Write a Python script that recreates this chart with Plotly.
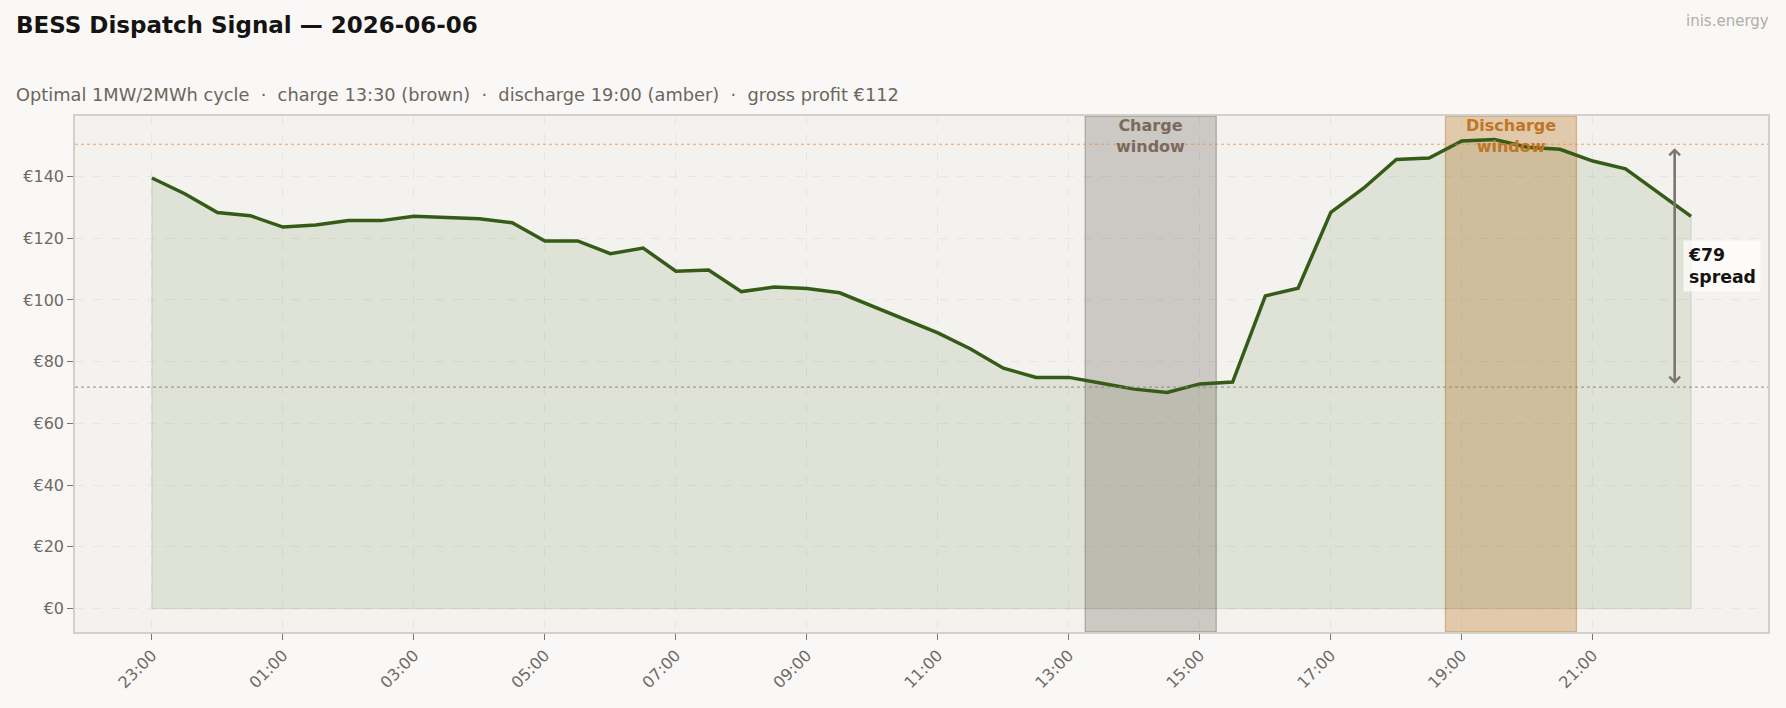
import pandas as pd
import plotly.graph_objects as go

# ---------------- data ----------------
start_time = "2026-06-05 23:00"
prices = [139.5, 134.4, 128.3, 127.3, 123.6, 124.3, 125.7, 125.7,
          127.1, 126.6, 126.3, 125.0, 119.1, 119.1, 115.0, 116.8,
          109.3, 109.7, 102.7, 104.2, 103.7, 102.3, 98.0, 93.4,
          89.3, 84.1, 77.9, 74.9, 74.9, 73.0, 71.1, 70.0,
          72.8, 73.4, 101.3, 103.8, 128.4, 136.2, 145.5, 146.0,
          151.5, 152.0, 149.5, 148.8, 145.0, 142.5, 134.9, 127.1]
charge_window = ["2026-06-06 13:15", "2026-06-06 15:15"]
discharge_window = ["2026-06-06 18:45", "2026-06-06 20:45"]
spread_arrow_time = "2026-06-06 22:15"
title_text = "BESS Dispatch Signal — 2026-06-06"
subtitle_text = ("Optimal 1MW/2MWh cycle  ·  charge 13:30 (brown)  ·  "
                 "discharge 19:00 (amber)  ·  gross profit €112")
watermark = "inis.energy"
y_tick_values = [0, 20, 40, 60, 80, 100, 120, 140]
y_tick_labels = ["€0", "€20", "€40", "€60", "€80", "€100", "€120", "€140"]

times = pd.date_range(start_time, periods=len(prices), freq="30min")
s = pd.Series(prices, index=times)
cw = [pd.Timestamp(t) for t in charge_window]
dw = [pd.Timestamp(t) for t in discharge_window]
charge_avg = s[(s.index >= cw[0]) & (s.index <= cw[1])].mean()
discharge_avg = s[(s.index >= dw[0]) & (s.index <= dw[1])].mean()
spread = discharge_avg - charge_avg

span = times[-1] - times[0]
x_range = [times[0] - span * 0.05, times[-1] + span * 0.05]
ymax = max(prices)
y_range = [-0.05 * ymax, 1.05 * ymax]
x_tick_values = list(times[::4])

FONT = "DejaVu Sans"
LINE_GREEN = "#355c17"
TICK_COLOR = "#6f6963"

fig = go.Figure()


def window_trace(win, fill, edge):
    y0, y1 = y_range
    return go.Scatter(x=[win[0], win[1], win[1], win[0], win[0]],
                      y=[y0, y0, y1, y1, y0], mode="lines", fill="toself",
                      fillcolor=fill, line=dict(color=edge, width=1.3),
                      hoverinfo="skip", showlegend=False)


fig.add_trace(window_trace(cw, "rgba(116,102,95,0.30)", "rgba(120,108,98,0.45)"))
fig.add_trace(window_trace(dw, "rgba(186,105,18,0.30)", "rgba(190,120,50,0.45)"))

fx = [times[0]] + list(times) + [times[-1], times[0]]
fy = [0] + prices + [0, 0]
fig.add_trace(go.Scatter(x=fx, y=fy, mode="lines", fill="toself",
                         fillcolor="rgba(58,95,26,0.105)",
                         line=dict(color="rgba(58,95,26,0.13)", width=1.3),
                         hoverinfo="skip", showlegend=False))
fig.add_trace(go.Scatter(x=times, y=prices, mode="lines",
                         line=dict(color=LINE_GREEN, width=3.5),
                         hoverinfo="skip", showlegend=False))

shapes = []
shapes.append(dict(type="line", xref="x domain", yref="y", x0=0, x1=1,
                   y0=discharge_avg, y1=discharge_avg,
                   line=dict(color="rgba(222,140,70,0.75)", width=1.2, dash="dot"),
                   layer="above"))
shapes.append(dict(type="line", xref="x domain", yref="y", x0=0, x1=1,
                   y0=charge_avg, y1=charge_avg,
                   line=dict(color="rgba(140,130,120,0.75)", width=1.2, dash="dot"),
                   layer="above"))

annotations = []
annotations.append(dict(x=cw[0] + (cw[1] - cw[0]) / 2, y=1.0, xref="x", yref="paper",
                        text="<b>Charge<br>window</b>", showarrow=False,
                        xanchor="center", yanchor="top", yshift=2,
                        font=dict(family=FONT, size=16, color="#7a6a5c")))
annotations.append(dict(x=dw[0] + (dw[1] - dw[0]) / 2, y=1.0, xref="x", yref="paper",
                        text="<b>Discharge<br>window</b>", showarrow=False,
                        xanchor="center", yanchor="top", yshift=2,
                        font=dict(family=FONT, size=16, color="#c07527")))
arrow_x = pd.Timestamp(spread_arrow_time)
annotations.append(dict(x=arrow_x, y=discharge_avg, ax=arrow_x, ay=charge_avg,
                        xref="x", yref="y", axref="x", ayref="y", text="",
                        showarrow=True, arrowhead=4, startarrowhead=4,
                        arrowside="end+start", arrowsize=0.8, arrowwidth=2.6,
                        arrowcolor="#7d7470", standoff=4, startstandoff=2))
annotations.append(dict(x=arrow_x, y=(discharge_avg + charge_avg) / 2, xref="x", yref="y",
                        text=f"<b>€{spread:.0f}<br>spread</b>", showarrow=False,
                        xanchor="left", yanchor="middle", align="left", xshift=8,
                        bgcolor="rgba(255,255,255,0.7)", borderpad=4,
                        font=dict(family=FONT, size=17.3, color="#161412")))

PL, PR, PT, PB = 75, 1768, 116, 632
W, H = 1786, 708
pw, ph = PR - PL, PB - PT
annotations.append(dict(x=(14 - PL) / pw, y=(PB - 94.5) / ph, xref="paper", yref="paper",
                        text=subtitle_text, showarrow=False, xanchor="left",
                        yanchor="middle",
                        font=dict(family=FONT, size=17.8, color="#6b6660")))
annotations.append(dict(x=(1771 - PL) / pw, y=(PB - 21.5) / ph, xref="paper", yref="paper",
                        text=watermark, showarrow=False, xanchor="right",
                        yanchor="middle",
                        font=dict(family=FONT, size=15, color="#b2aea9")))

fig.update_layout(
    width=W, height=H,
    margin=dict(l=PL, r=W - PR, t=PT, b=H - PB, autoexpand=False),
    paper_bgcolor="#f9f8f6",
    plot_bgcolor="#f3f2ee",
    title=dict(text=f"<b>{title_text}</b>", x=16 / W, xanchor="left",
               y=1 - 25 / H, yanchor="middle", xref="container", yref="container",
               font=dict(family=FONT, size=23, color="#161412")),
    shapes=shapes,
    annotations=annotations,
    showlegend=False,
)

fig.update_xaxes(
    type="date", range=x_range, tickmode="array", tickvals=x_tick_values,
    tickformat="%H:%M", tickangle=-45,
    tickfont=dict(family=FONT, size=16, color=TICK_COLOR),
    ticks="outside", ticklen=6, tickwidth=1.3, tickcolor="#7a746e",
    showgrid=True, gridcolor="#e9e6e0", gridwidth=0.8, griddash="dash",
    showline=True, linecolor="#d3cfc9", linewidth=1.6, mirror=True,
    zeroline=False,
)
fig.update_yaxes(
    range=y_range, tickmode="array", tickvals=y_tick_values, ticktext=y_tick_labels,
    tickfont=dict(family=FONT, size=16, color=TICK_COLOR),
    ticks="outside", ticklen=6, tickwidth=1.3, tickcolor="#7a746e",
    showgrid=True, gridcolor="#e9e6e0", gridwidth=0.8, griddash="dash",
    showline=True, linecolor="#d3cfc9", linewidth=1.6, mirror=True,
    zeroline=False,
)

fig.write_html("out.html")
